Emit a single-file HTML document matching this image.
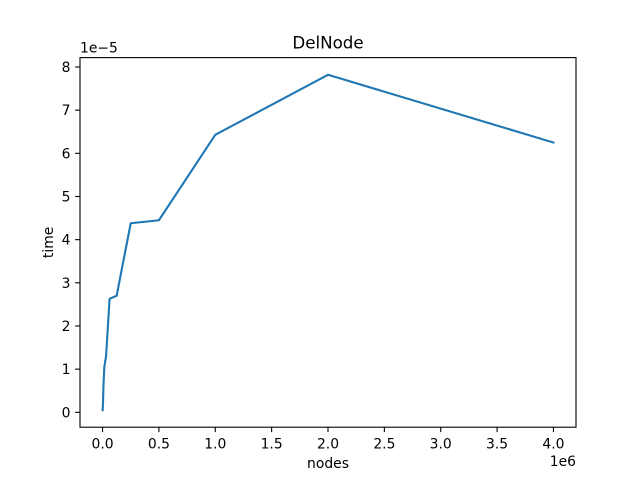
<!DOCTYPE html>
<html><head><meta charset="utf-8"><style>
body{margin:0;background:#fff;}
svg{font-family:"DejaVu Sans","Liberation Sans",sans-serif;}
</style></head><body>
<svg id="chart" width="640" height="480" viewBox="0 0 640 480"></svg>
<script>
const nodes = [4000000, 2000000, 1000000, 500000, 250000, 125000, 62500, 31250, 15625, 7812, 3906, 1953, 976];
const times = [6.25, 7.82, 6.43, 4.45, 4.38, 2.70, 2.63, 1.30, 1.05, 0.60, 0.20, 0.10, 0.05];
const xTicks = [0, 0.5, 1.0, 1.5, 2.0, 2.5, 3.0, 3.5, 4.0];
const xTickLabels = ["0.0","0.5","1.0","1.5","2.0","2.5","3.0","3.5","4.0"];
const yTicks = [0,1,2,3,4,5,6,7,8];
const yTickLabels = ["0","1","2","3","4","5","6","7","8"];

const L=80,R=576,T=57.6,B=427.2;
const xmin=-0.2, xmax=4.2, ymin=-0.345, ymax=8.218;
const sx=v=>L+(v-xmin)/(xmax-xmin)*(R-L);
const sy=v=>B-(v-ymin)/(ymax-ymin)*(B-T);
const svg=document.getElementById('chart');
const NS='http://www.w3.org/2000/svg';
function mk(tag,attrs,txt){const e=document.createElementNS(NS,tag);for(const k in attrs)e.setAttribute(k,attrs[k]);if(txt!==undefined)e.textContent=txt;svg.appendChild(e);return e;}
const FS=13.9;

let frame=mk('rect',{x:L,y:T,width:R-L,height:B-T,fill:'none',stroke:'#000','stroke-width':1.1});



xTicks.forEach((v,i)=>{
  const x=sx(v);
  const t=mk('line',{x1:x,x2:x,y1:B,y2:B+4.9,stroke:'#000','stroke-width':1.1});
  
  
  const l=mk('text',{x:x,y:B+21.5,'font-size':FS,'text-anchor':'middle'},xTickLabels[i]);
  
  
});
yTicks.forEach((v,i)=>{
  const y=sy(v);
  const t=mk('line',{x1:L-4.9,x2:L,y1:y,y2:y,stroke:'#000','stroke-width':1.1});
  
  
  const l=mk('text',{x:L-9.5,y:y+5,'font-size':FS,'text-anchor':'end'},yTickLabels[i]);
  
  
});

const pts=nodes.map((n,i)=>sx(n/1e6).toFixed(2)+','+sy(times[i]).toFixed(2)).join(' ');
const line=mk('polyline',{points:pts,fill:'none',stroke:'#1f77b4','stroke-width':2.1,'stroke-linejoin':'round','stroke-linecap':'square'});



let e;
e=mk('text',{x:(L+R)/2,y:T-9,'font-size':16.7,'text-anchor':'middle'},'DelNode');


e=mk('text',{x:(L+R)/2,y:468,'font-size':FS,'text-anchor':'middle'},'nodes');


e=mk('text',{x:0,y:0,'font-size':FS,'text-anchor':'middle',transform:'translate(53,'+((T+B)/2)+') rotate(-90)'},'time');


e=mk('text',{x:L,y:T-5,'font-size':FS},'1e\u22125');


e=mk('text',{x:R,y:466,'font-size':FS,'text-anchor':'end'},'1e6');


</script>
</body></html>
